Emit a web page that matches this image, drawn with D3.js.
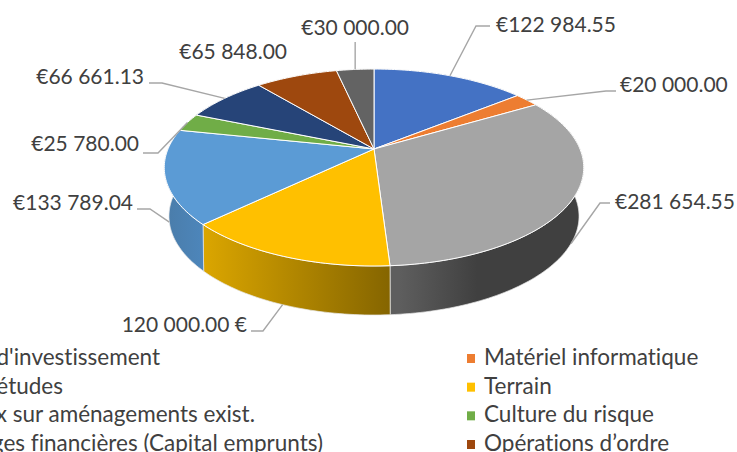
<!DOCTYPE html>
<html>
<head>
<meta charset="utf-8">
<script src="https://cdn.jsdelivr.net/npm/d3@7"></script>
<style>
  html, body { margin: 0; padding: 0; background: #fff; overflow: hidden; }
  text { font-family: Lato, "Open Sans", sans-serif; fill: #404040; font-variant-ligatures: none; }
</style>
</head>
<body>
<svg id="chart" width="737" height="452"></svg>
<script>
// slice values, clockwise from 12 o'clock
var values = [122984.55, 20000, 281654.55, 120000, 133789.04, 25780, 66661.13, 65848, 30000];
var valueLabels = ["€122 984.55", "€20 000.00", "€281 654.55", "120 000.00 €", "€133 789.04",
                   "€25 780.00", "€66 661.13", "€65 848.00", "€30 000.00"];
var colors = ["#4472c4", "#ed7d31", "#a5a5a5", "#ffc000", "#5b9bd5", "#70ad47", "#264478", "#9e480e", "#636363"];

// legend text is cut by the left edge in the picture
var legendLeft = ["Frais d'investissement", "Frais d'études", "Travaux sur aménagements exist.", "Charges financières (Capital emprunts)"];
var legendLeftEnd = [160, 63, 255, 323];
var legendRight = ["Matériel informatique", "Terrain", "Culture du risque", "Opérations d’ordre"];
var legendRightColors = [colors[1], colors[3], colors[5], colors[7]];

var svg = d3.select("#chart");
var defs = svg.append("defs");

// tilted disc: a unit circle seen in perspective
var cx = 374, cy = 149;
var top_ = { rx: 206, ry: 95, dy: 0, k: 0.188 },
    bottom = { rx: 200, ry: 94, dy: 45.5, k: 0.22 };

function project(a, ring) {
  var x = Math.sin(a), y = -Math.cos(a), w = 1 - ring.k * y;
  return [cx + ring.rx * x / w, cy + ring.dy + ring.ry * y / w];
}

var arcs = d3.pie().sort(null).value(function(d) { return d; })(values);
var line = d3.line();

function edge(d, ring) {
  var n = Math.max(2, Math.ceil((d.endAngle - d.startAngle) / 0.02));
  return d3.range(n + 1).map(function(i) {
    return project(d.startAngle + (d.endAngle - d.startAngle) * i / n, ring);
  });
}

// walls, shaded left to right per slice
var wallShade = [
  ["#3a5f9f", "#3a5f9f"], ["#b55f25", "#b55f25"], ["#5e5e5e", "#404040"], ["#dba600", "#856500"],
  ["#4a7ca9", "#4d86bb"], ["#5e9139", "#5e9139"], ["#1d3560", "#1d3560"], ["#7d380b", "#7d380b"], ["#4e4e4e", "#4e4e4e"]
];
arcs.forEach(function(d, i) {
  var a = edge(d, top_), b = edge(d, bottom).reverse();
  var xs = a.concat(b).map(function(p) { return p[0]; });
  var grad = defs.append("linearGradient").attr("id", "wall" + i)
    .attr("gradientUnits", "userSpaceOnUse")
    .attr("x1", d3.min(xs)).attr("x2", d3.max(xs)).attr("y1", 0).attr("y2", 0);
  // gray wall goes flat about halfway along
  grad.append("stop").attr("offset", i === 2 ? "0.05" : "0").attr("stop-color", wallShade[i][0]);
  grad.append("stop").attr("offset", i === 2 ? "0.45" : "1").attr("stop-color", wallShade[i][1]);
  svg.append("path")
    .attr("d", line(a.concat(b)) + "Z")
    .attr("fill", "url(#wall" + i + ")")
    .attr("stroke", "#e6e6e6").attr("stroke-width", 0.7);
});

// top face
svg.selectAll("path.face").data(arcs).enter().append("path")
  .attr("class", "face")
  .attr("d", function(d) { return line([[cx, cy]].concat(edge(d, top_))) + "Z"; })
  .attr("fill", function(d, i) { return colors[i]; })
  .attr("stroke", "#fff").attr("stroke-width", 1).attr("stroke-linejoin", "round");

// labels: text anchor point, elbow and which ring the leader starts from
var labelX = [496, 620, 615, 247, 133, 139, 144, 287, 409];
var labelY = [32, 92, 209, 332, 210, 151, 84, 59, 35];
var labelAnchor = ["start", "start", "start", "end", "end", "end", "end", "end", "end"];
var elbowX = [476, 606, 600, 263, 150, 158, 162, null, null];
var tailX = [490, 616, 610, 251, 137, 143, 149, null, null];
var elbowY = [26, 91, 203, 331, 209, 153, 83, null, null];
var leaderRing = [top_, top_, bottom, bottom, bottom, top_, top_, top_, top_];

arcs.forEach(function(d, i) {
  var p = project((d.startAngle + d.endAngle) / 2, leaderRing[i]);
  if (elbowX[i] !== null) {
    svg.append("path")
      .attr("d", line([p, [elbowX[i], elbowY[i]], [tailX[i], elbowY[i]]]))
      .attr("fill", "none").attr("stroke", "#a6a6a6").attr("stroke-width", 1.4);
  } else if (i === 8) {
    svg.append("path")
      .attr("d", line([p, [p[0], 42]]))
      .attr("fill", "none").attr("stroke", "#a6a6a6").attr("stroke-width", 1.4);
  }
  svg.append("text")
    .attr("x", labelX[i]).attr("y", labelY[i])
    .attr("text-anchor", labelAnchor[i])
    .style("font-size", "21px")
    .text(valueLabels[i]);
});

// legend
var legendY = d3.scalePoint().domain(d3.range(4)).range([365, 451]);

svg.selectAll("text.legl").data(legendLeft).enter().append("text")
  .attr("class", "legl")
  .attr("x", function(d, i) { return legendLeftEnd[i]; })
  .attr("y", function(d, i) { return legendY(i); })
  .attr("text-anchor", "end")
  .style("font-size", "22.5px")
  .text(function(d) { return d; });

svg.selectAll("rect.legr").data(legendRight).enter().append("rect")
  .attr("class", "legr")
  .attr("x", 467).attr("width", 8).attr("height", 9)
  .attr("y", function(d, i) { return legendY(i) - 11; })
  .attr("fill", function(d, i) { return legendRightColors[i]; });

svg.selectAll("text.legr").data(legendRight).enter().append("text")
  .attr("class", "legr")
  .attr("x", 484)
  .attr("y", function(d, i) { return legendY(i); })
  .style("font-size", "22.5px")
  .text(function(d) { return d; });
</script>
</body>
</html>
